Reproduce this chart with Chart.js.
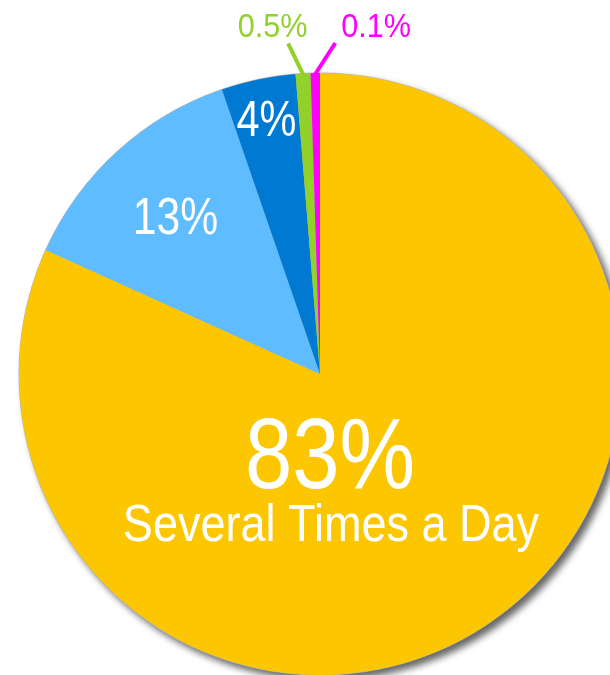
<!DOCTYPE html>
<html>
<head>
<meta charset="utf-8">
<script src="https://cdn.jsdelivr.net/npm/chart.js@4/dist/chart.umd.min.js"></script>
<style>
  html, body { margin: 0; padding: 0; background: #fff; overflow: hidden; }
  #wrap { width: 610px; height: 675px; overflow: hidden; }
</style>
</head>
<body>
<div id="wrap"><canvas id="pie" width="630" height="675"></canvas></div>
<script>
// slice sizes as drawn in the picture (small slices are drawn a bit wider than their labels)
const categories = ['Several Times a Day', 'Once a Day', 'Few Times a Week', 'Once a Week', 'Rarely'];
const sliceShares = [82, 13, 4, 0.8, 0.5];
const shareLabels = ['83%', '13%', '4%', '0.5%', '0.1%'];
const sliceColors = ['#fcc600', '#5fbdff', '#0079d3', '#92d02a', '#ff00ff'];

const FONT = '"Liberation Sans", Arial, sans-serif';

// no narrow font installed, so squeeze Liberation Sans horizontally
// (x = centre, y = baseline)
function narrowText(ctx, text, x, y, size, sx) {
  ctx.save();
  ctx.translate(x, y);
  ctx.scale(sx || 0.85, 1);
  ctx.font = size + 'px ' + FONT;
  ctx.fillText(text, 0, 0);
  ctx.restore();
}

// grey drop shadow under the whole pie
const pieShadow = {
  id: 'pieShadow',
  beforeDatasetsDraw(chart) {
    const arc = chart.getDatasetMeta(0).data[0];
    const ctx = chart.ctx;
    ctx.save();
    ctx.shadowColor = 'rgba(0,0,0,0.6)';
    ctx.shadowBlur = 7;
    ctx.shadowOffsetX = 5;
    ctx.shadowOffsetY = 5;
    ctx.fillStyle = '#b5b5b5';
    ctx.beginPath();
    ctx.arc(arc.x, arc.y, arc.outerRadius + 0.5, 0, Math.PI * 2);
    ctx.fill();
    ctx.restore();
  }
};

// labels inside / above the slices
const sliceLabels = {
  id: 'sliceLabels',
  afterDatasetsDraw(chart) {
    const ctx = chart.ctx;
    const arcs = chart.getDatasetMeta(0).data;
    const cx = arcs[0].x, cy = arcs[0].y, r = arcs[0].outerRadius;
    ctx.save();
    ctx.textAlign = 'center';
    ctx.textBaseline = 'alphabetic';
    ctx.fillStyle = '#ffffff';

    // big yellow label
    narrowText(ctx, shareLabels[0], cx + 10, cy + 114, 100, 0.85);
    narrowText(ctx, categories[0], cx + 11, cy + 167, 52, 0.866);

    // inside labels for the two blue slices
    const inside = [[1, 0.713, 52, 0.82], [2, 0.868, 50, 0.83]];
    inside.forEach(([i, f, size, sx]) => {
      const a = arcs[i];
      const mid = (a.startAngle + a.endAngle) / 2;
      const x = cx + Math.cos(mid) * r * f;
      const y = cy + Math.sin(mid) * r * f + size * 0.358;
      narrowText(ctx, shareLabels[i], x, y, size, sx);
    });

    // outside labels with leader lines
    const outside = [[3, -15, -47.5], [4, 20, 56]];
    outside.forEach(([i, dx, tdx]) => {
      const a = arcs[i];
      const mid = (a.startAngle + a.endAngle) / 2;
      const x0 = cx + Math.cos(mid) * (r - 1);
      const y0 = cy + Math.sin(mid) * (r - 1);
      ctx.strokeStyle = sliceColors[i];
      ctx.lineWidth = 4;
      ctx.beginPath();
      ctx.moveTo(x0, y0);
      ctx.lineTo(x0 + dx, y0 - 31);
      ctx.stroke();
      ctx.fillStyle = sliceColors[i];
      narrowText(ctx, shareLabels[i], cx + tdx, 37, 34, 0.9);
    });
    ctx.restore();
  }
};

new Chart(document.getElementById('pie'), {
  type: 'pie',
  data: {
    labels: categories,
    datasets: [{
      data: sliceShares,
      backgroundColor: sliceColors,
      borderWidth: 0
    }]
  },
  options: {
    responsive: false,
    animation: false,
    layout: { padding: { left: 19, top: 73, right: 9, bottom: 0 } },
    plugins: {
      legend: { display: false },
      tooltip: { enabled: false }
    }
  },
  plugins: [pieShadow, sliceLabels]
});
</script>
</body>
</html>
